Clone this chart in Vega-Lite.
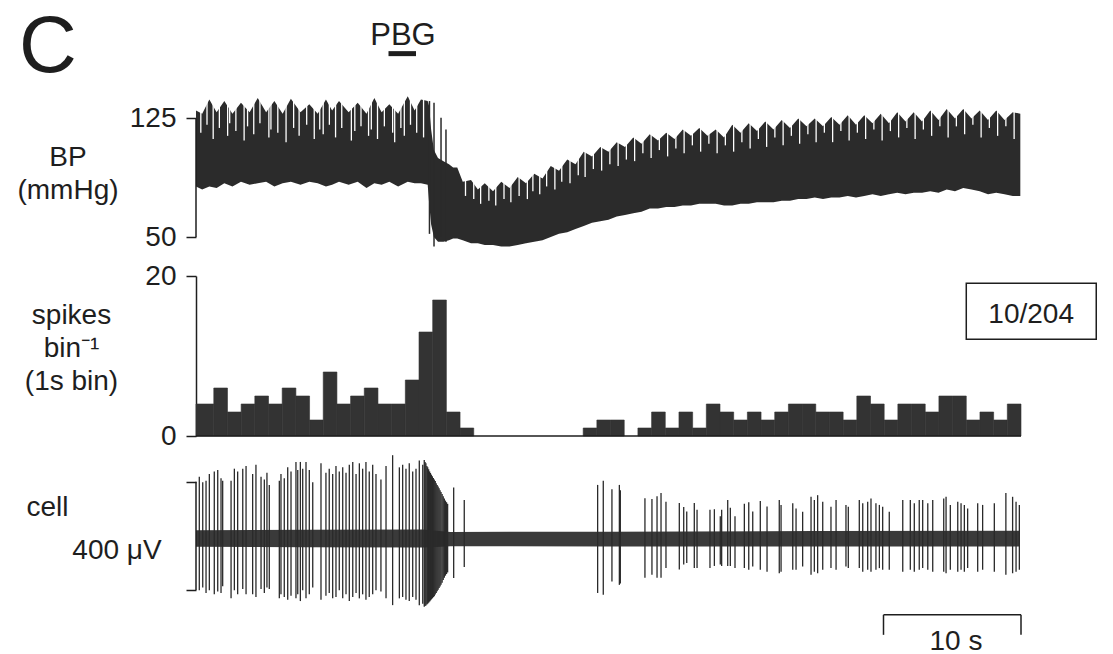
{
  "$schema": "https://vega.github.io/schema/vega-lite/v6.json",
  "padding": {"left": 16, "top": 7, "right": 0, "bottom": 0},
  "bounds": "flush",
  "spacing": 20,
  "config": {
    "view": {"stroke": null},
    "font": "Liberation Sans",
    "text": {"font": "Liberation Sans", "color": "#1e1e1e"},
    "axis": {
      "grid": false,
      "labelFont": "Liberation Sans",
      "titleFont": "Liberation Sans",
      "labelFontSize": 28,
      "titleFontSize": 28,
      "titleFontWeight": "normal",
      "labelColor": "#1e1e1e",
      "titleColor": "#1e1e1e",
      "tickColor": "#1e1e1e",
      "domainColor": "#1e1e1e",
      "tickWidth": 1.5,
      "domainWidth": 1.5,
      "titleAngle": 0,
      "titleAlign": "center",
      "titleBaseline": "alphabetic",
      "titleLineHeight": 33
    }
  },
  "datasets": {
    "bp": [
      {"t":0.0,"v":130,"v2":82},{"t":0.45,"v":128,"v2":80},{"t":0.97,"v":137,"v2":82},{"t":1.5,"v":129,"v2":81},
      {"t":2.06,"v":136,"v2":84},{"t":2.65,"v":128,"v2":82},{"t":3.27,"v":135,"v2":85},{"t":3.9,"v":129,"v2":83},
      {"t":4.49,"v":138,"v2":84},{"t":5.1,"v":129,"v2":85},{"t":5.7,"v":136,"v2":82},{"t":6.3,"v":128,"v2":84},
      {"t":6.9,"v":137.5,"v2":85},{"t":7.6,"v":129,"v2":83},{"t":8.24,"v":134,"v2":85},{"t":8.85,"v":128,"v2":84},
      {"t":9.45,"v":137,"v2":82},{"t":9.9,"v":130,"v2":83},{"t":10.4,"v":136,"v2":85},{"t":11.1,"v":129,"v2":83},
      {"t":11.76,"v":135,"v2":85},{"t":12.4,"v":128,"v2":81},{"t":12.97,"v":138,"v2":84},{"t":13.5,"v":129,"v2":83},
      {"t":14.06,"v":134,"v2":85},{"t":14.7,"v":128,"v2":82},{"t":15.4,"v":139,"v2":85},{"t":15.9,"v":130,"v2":84},
      {"t":16.36,"v":137,"v2":84},{"t":16.85,"v":136,"v2":83},{"t":16.95,"v":133,"v2":72},{"t":17.1,"v":118,"v2":58},
      {"t":17.3,"v":105,"v2":50},{"t":17.6,"v":100,"v2":47},{"t":18.0,"v":98,"v2":47},{"t":18.4,"v":96,"v2":48},
      {"t":18.7,"v":94,"v2":49},{"t":19.0,"v":94,"v2":49},{"t":19.4,"v":85,"v2":48},{"t":20.0,"v":86,"v2":46},
      {"t":20.5,"v":80,"v2":46},{"t":21.0,"v":84,"v2":45},{"t":21.6,"v":79,"v2":45},{"t":22.2,"v":85,"v2":44},
      {"t":22.8,"v":81,"v2":44},{"t":23.4,"v":88,"v2":45},{"t":24.0,"v":84,"v2":46},{"t":24.6,"v":90,"v2":47},
      {"t":25.2,"v":87,"v2":48},{"t":25.8,"v":95,"v2":50},{"t":26.4,"v":92,"v2":52},{"t":27.0,"v":99,"v2":53},
      {"t":27.6,"v":96,"v2":55},{"t":28.2,"v":104,"v2":57},{"t":28.8,"v":101,"v2":59},{"t":29.4,"v":107,"v2":60},
      {"t":30.0,"v":104,"v2":61},{"t":30.6,"v":110,"v2":63},{"t":31.2,"v":107,"v2":64},{"t":31.8,"v":113,"v2":65},
      {"t":32.4,"v":109,"v2":66},{"t":33.0,"v":115,"v2":68},{"t":33.6,"v":111,"v2":68},{"t":34.2,"v":116,"v2":69},
      {"t":34.8,"v":112,"v2":69},{"t":35.4,"v":118,"v2":70},{"t":36.0,"v":114,"v2":70},{"t":36.6,"v":119,"v2":71},
      {"t":37.2,"v":114,"v2":71},{"t":37.8,"v":118,"v2":71},{"t":38.4,"v":113,"v2":70},{"t":39.0,"v":121,"v2":70},
      {"t":39.6,"v":116,"v2":71},{"t":40.2,"v":122,"v2":71},{"t":40.8,"v":117,"v2":72},{"t":41.4,"v":123,"v2":72},
      {"t":42.0,"v":118,"v2":72},{"t":42.6,"v":124,"v2":73},{"t":43.2,"v":119,"v2":73},{"t":43.8,"v":125,"v2":74},
      {"t":44.4,"v":120,"v2":74},{"t":45.0,"v":125,"v2":75},{"t":45.6,"v":120,"v2":74},{"t":46.2,"v":126,"v2":75},
      {"t":46.8,"v":121,"v2":75},{"t":47.4,"v":127,"v2":76},{"t":48.0,"v":121,"v2":75},{"t":48.6,"v":127,"v2":76},
      {"t":49.2,"v":122,"v2":77},{"t":49.8,"v":128,"v2":76},{"t":50.4,"v":122,"v2":77},{"t":51.0,"v":129,"v2":78},
      {"t":51.6,"v":123,"v2":77},{"t":52.2,"v":129,"v2":78},{"t":52.8,"v":123,"v2":78},{"t":53.4,"v":130,"v2":79},
      {"t":54.0,"v":124,"v2":78},{"t":54.6,"v":131,"v2":80},{"t":55.2,"v":125,"v2":79},{"t":55.8,"v":131,"v2":81},
      {"t":56.4,"v":125,"v2":80},{"t":57.0,"v":130,"v2":79},{"t":57.6,"v":124,"v2":77},{"t":58.2,"v":130,"v2":78},
      {"t":58.8,"v":124,"v2":77},{"t":59.4,"v":129,"v2":76},{"t":59.95,"v":128,"v2":76}
    ],
    "bpGap": [
      {"t":0.35,"v":145,"v2":116},{"t":0.8,"v":145,"v2":121},{"t":1.25,"v":145,"v2":112},{"t":1.7,"v":145,"v2":119},
      {"t":2.3,"v":145,"v2":114},{"t":2.45,"v":145,"v2":122},{"t":2.9,"v":145,"v2":117},{"t":3.5,"v":145,"v2":111},
      {"t":3.75,"v":145,"v2":120},{"t":4.2,"v":145,"v2":115},{"t":4.65,"v":145,"v2":122},{"t":5.3,"v":145,"v2":113},
      {"t":5.45,"v":145,"v2":118},{"t":5.95,"v":145,"v2":116},{"t":6.55,"v":145,"v2":110},{"t":7.1,"v":145,"v2":119},
      {"t":7.5,"v":145,"v2":114},{"t":8.05,"v":145,"v2":121},{"t":8.6,"v":145,"v2":112},{"t":9.0,"v":145,"v2":118},
      {"t":9.25,"v":145,"v2":115},{"t":9.7,"v":145,"v2":121},{"t":10.15,"v":145,"v2":113},{"t":10.6,"v":145,"v2":119},
      {"t":11.3,"v":145,"v2":111},{"t":11.55,"v":145,"v2":117},{"t":12.0,"v":145,"v2":120},{"t":12.55,"v":145,"v2":114},
      {"t":12.75,"v":145,"v2":118},{"t":13.2,"v":145,"v2":112},{"t":13.7,"v":145,"v2":120},{"t":14.3,"v":145,"v2":116},
      {"t":14.45,"v":145,"v2":110},{"t":14.9,"v":145,"v2":119},{"t":15.15,"v":145,"v2":114},{"t":15.6,"v":145,"v2":121},
      {"t":16.05,"v":145,"v2":116},{"t":16.55,"v":145,"v2":113},
      {"t":19.6,"v":140,"v2":76},{"t":20.2,"v":140,"v2":74},{"t":20.7,"v":140,"v2":71},{"t":21.3,"v":140,"v2":73},
      {"t":21.8,"v":140,"v2":70},{"t":22.4,"v":140,"v2":74},{"t":22.9,"v":140,"v2":72},{"t":23.5,"v":140,"v2":76},
      {"t":24.1,"v":140,"v2":74},{"t":24.5,"v":140,"v2":79},{"t":25.0,"v":140,"v2":77},{"t":25.5,"v":140,"v2":82},
      {"t":26.1,"v":140,"v2":80},{"t":26.6,"v":140,"v2":85},{"t":27.2,"v":140,"v2":84},{"t":27.8,"v":140,"v2":89},
      {"t":28.3,"v":140,"v2":88},{"t":28.9,"v":140,"v2":93},{"t":29.5,"v":140,"v2":92},{"t":30.1,"v":140,"v2":96},
      {"t":30.7,"v":140,"v2":95},{"t":31.3,"v":140,"v2":99},{"t":31.9,"v":140,"v2":98},{"t":32.5,"v":140,"v2":103},
      {"t":33.1,"v":140,"v2":100},{"t":33.7,"v":140,"v2":105},{"t":34.3,"v":140,"v2":101},{"t":34.9,"v":140,"v2":106},
      {"t":35.5,"v":140,"v2":103},{"t":36.1,"v":140,"v2":108},{"t":36.7,"v":140,"v2":104},{"t":37.3,"v":140,"v2":109},
      {"t":37.9,"v":140,"v2":103},{"t":38.5,"v":140,"v2":108},{"t":39.1,"v":140,"v2":104},{"t":39.7,"v":140,"v2":110},
      {"t":40.3,"v":140,"v2":106},{"t":40.9,"v":140,"v2":112},{"t":41.5,"v":140,"v2":107},{"t":42.1,"v":140,"v2":113},
      {"t":42.7,"v":140,"v2":108},{"t":43.3,"v":140,"v2":114},{"t":43.9,"v":140,"v2":109},{"t":44.5,"v":140,"v2":115},
      {"t":45.1,"v":140,"v2":110},{"t":45.7,"v":140,"v2":116},{"t":46.3,"v":140,"v2":110},{"t":46.9,"v":140,"v2":117},
      {"t":47.5,"v":140,"v2":111},{"t":48.1,"v":140,"v2":116},{"t":48.7,"v":140,"v2":112},{"t":49.3,"v":140,"v2":118},
      {"t":49.9,"v":140,"v2":111},{"t":50.5,"v":140,"v2":117},{"t":51.1,"v":140,"v2":113},{"t":51.7,"v":140,"v2":119},
      {"t":52.3,"v":140,"v2":112},{"t":52.9,"v":140,"v2":118},{"t":53.5,"v":140,"v2":114},{"t":54.1,"v":140,"v2":120},
      {"t":54.7,"v":140,"v2":113},{"t":55.3,"v":140,"v2":120},{"t":55.9,"v":140,"v2":115},{"t":56.5,"v":140,"v2":121},
      {"t":57.1,"v":140,"v2":113},{"t":57.7,"v":140,"v2":119},{"t":58.3,"v":140,"v2":114},{"t":58.9,"v":140,"v2":120},
      {"t":59.5,"v":140,"v2":112}
    ],
    "bpStroke": [
      {"t":16.98,"v":136,"v2":52},{"t":17.31,"v":135,"v2":44},{"t":17.82,"v":125.5,"v2":50},{"t":18.18,"v":118,"v2":47}
    ],
    "bpAxis": [{"t":0,"v":125,"v2":50}],
    "pbgBar": [{"t":14.0,"t2":16.0,"v":166}],
    "pbgText": [{"t":15.05,"v":171.5,"label":"PBG"}],
    "hist": [
      {"t":-0.3,"t2":1,"v":4},{"t":1,"t2":2,"v":6},{"t":2,"t2":3,"v":3},{"t":3,"t2":4,"v":4},{"t":4,"t2":5,"v":5},
      {"t":5,"t2":6,"v":4},{"t":6,"t2":7,"v":6},{"t":7,"t2":8,"v":5},{"t":8,"t2":9,"v":2},{"t":9,"t2":10,"v":8},
      {"t":10,"t2":11,"v":4},{"t":11,"t2":12,"v":5},{"t":12,"t2":13,"v":6},{"t":13,"t2":14,"v":4},{"t":14,"t2":15,"v":4},
      {"t":15,"t2":16,"v":7},{"t":16,"t2":17,"v":13},{"t":17,"t2":18,"v":17},{"t":18,"t2":19,"v":3},{"t":19,"t2":20,"v":1},
      {"t":28,"t2":29,"v":1},{"t":29,"t2":30,"v":2},{"t":30,"t2":31,"v":2},{"t":32,"t2":33,"v":1},{"t":33,"t2":34,"v":3},
      {"t":34,"t2":35,"v":1},{"t":35,"t2":36,"v":3},{"t":36,"t2":37,"v":1},{"t":37,"t2":38,"v":4},{"t":38,"t2":39,"v":3},
      {"t":39,"t2":40,"v":2},{"t":40,"t2":41,"v":3},{"t":41,"t2":42,"v":2},{"t":42,"t2":43,"v":3},{"t":43,"t2":44,"v":4},
      {"t":44,"t2":45,"v":4},{"t":45,"t2":46,"v":3},{"t":46,"t2":47,"v":3},{"t":47,"t2":48,"v":2},{"t":48,"t2":49,"v":5},
      {"t":49,"t2":50,"v":4},{"t":50,"t2":51,"v":2},{"t":51,"t2":52,"v":4},{"t":52,"t2":53,"v":4},{"t":53,"t2":54,"v":3},
      {"t":54,"t2":55,"v":5},{"t":55,"t2":56,"v":5},{"t":56,"t2":57,"v":2},{"t":57,"t2":58,"v":3},{"t":58,"t2":59,"v":2},
      {"t":59,"t2":60,"v":4}
    ],
    "histBase": [{"t":-0.3,"t2":60,"v":0}],
    "boxRect": [{"t":56.0,"t2":65.5,"v":19.1,"v2":12.1}],
    "boxText": [{"t":60.74,"v":14.1,"label":"10/204"}],
    "band": [
      {"t":0,"v":32,"v2":-29},{"t":8,"v":34,"v2":-31},{"t":16.5,"v":35,"v2":-32},{"t":17.5,"v":30,"v2":-30},
      {"t":18.5,"v":26,"v2":-27},{"t":30,"v":27,"v2":-28},{"t":45,"v":29,"v2":-28},{"t":59.9,"v":30,"v2":-28}
    ],
    "spikes": [
      {"t":0.24,"v":230,"v2":-190},{"t":0.49,"v":210,"v2":-180},{"t":0.73,"v":215,"v2":-200},{"t":0.97,"v":240,"v2":-190},
      {"t":1.33,"v":250,"v2":-205},{"t":1.58,"v":255,"v2":-195},{"t":1.82,"v":225,"v2":-200},{"t":1.94,"v":215,"v2":-175},
      {"t":2.55,"v":215,"v2":-220},{"t":2.79,"v":260,"v2":-190},{"t":3.03,"v":250,"v2":-205},{"t":3.4,"v":260,"v2":-185},
      {"t":3.64,"v":270,"v2":-205},{"t":4.12,"v":240,"v2":-205},{"t":4.36,"v":275,"v2":-215},{"t":4.73,"v":230,"v2":-185},
      {"t":4.97,"v":220,"v2":-200},{"t":5.16,"v":245,"v2":-180},{"t":5.33,"v":200,"v2":-185},{"t":6.06,"v":215,"v2":-220},
      {"t":6.18,"v":240,"v2":-205},{"t":6.42,"v":225,"v2":-215},{"t":6.67,"v":265,"v2":-225},{"t":6.91,"v":250,"v2":-210},
      {"t":7.27,"v":285,"v2":-220},{"t":7.4,"v":255,"v2":-205},{"t":7.59,"v":285,"v2":-230},{"t":7.76,"v":260,"v2":-190},
      {"t":8.0,"v":285,"v2":-220},{"t":8.24,"v":255,"v2":-205},{"t":8.49,"v":210,"v2":-180},{"t":9.09,"v":280,"v2":-225},
      {"t":9.45,"v":245,"v2":-210},{"t":9.69,"v":260,"v2":-200},{"t":9.94,"v":240,"v2":-220},{"t":10.18,"v":270,"v2":-215},
      {"t":10.42,"v":250,"v2":-190},{"t":10.67,"v":265,"v2":-220},{"t":10.91,"v":245,"v2":-205},{"t":11.15,"v":275,"v2":-230},
      {"t":11.4,"v":285,"v2":-215},{"t":11.64,"v":240,"v2":-200},{"t":11.88,"v":280,"v2":-220},{"t":12.12,"v":260,"v2":-205},
      {"t":12.36,"v":285,"v2":-225},{"t":12.6,"v":250,"v2":-215},{"t":12.85,"v":275,"v2":-205},{"t":13.09,"v":240,"v2":-190},
      {"t":13.45,"v":220,"v2":-195},{"t":13.82,"v":270,"v2":-220},{"t":14.3,"v":310,"v2":-245},{"t":14.79,"v":265,"v2":-220},
      {"t":15.03,"v":275,"v2":-215},{"t":15.27,"v":260,"v2":-225},{"t":15.51,"v":280,"v2":-230},{"t":15.76,"v":250,"v2":-215},
      {"t":16.0,"v":260,"v2":-225},{"t":16.24,"v":290,"v2":-245},{"t":16.49,"v":275,"v2":-240},
      {"t":16.6,"v":292,"v2":-251},{"t":16.66,"v":285,"v2":-248},{"t":16.72,"v":280,"v2":-246},{"t":16.79,"v":270,"v2":-243},
      {"t":16.85,"v":265,"v2":-240},{"t":16.92,"v":258,"v2":-236},{"t":16.99,"v":250,"v2":-232},{"t":17.05,"v":244,"v2":-228},
      {"t":17.12,"v":238,"v2":-224},{"t":17.19,"v":232,"v2":-220},{"t":17.26,"v":226,"v2":-216},{"t":17.33,"v":220,"v2":-212},
      {"t":17.4,"v":214,"v2":-206},{"t":17.47,"v":206,"v2":-200},{"t":17.54,"v":200,"v2":-194},{"t":17.61,"v":194,"v2":-188},
      {"t":17.68,"v":188,"v2":-182},{"t":17.75,"v":180,"v2":-176},{"t":17.82,"v":174,"v2":-170},{"t":17.9,"v":166,"v2":-162},
      {"t":17.98,"v":158,"v2":-152},{"t":18.06,"v":150,"v2":-144},{"t":18.14,"v":142,"v2":-136},{"t":18.22,"v":136,"v2":-130},
      {"t":18.3,"v":130,"v2":-124},{"t":18.74,"v":190,"v2":-145},{"t":19.51,"v":144,"v2":-104},
      {"t":29.21,"v":200,"v2":-200},{"t":29.62,"v":215,"v2":-207},{"t":30.25,"v":184,"v2":-158},{"t":30.79,"v":200,"v2":-170},
      {"t":30.86,"v":180,"v2":-165},{"t":32.65,"v":151,"v2":-144},{"t":33.16,"v":148,"v2":-133},{"t":33.53,"v":158,"v2":-144},
      {"t":33.82,"v":170,"v2":-144},{"t":34.18,"v":138,"v2":-108},{"t":35.15,"v":133,"v2":-113},{"t":35.47,"v":118,"v2":-95},
      {"t":35.69,"v":102,"v2":-89},{"t":36.24,"v":133,"v2":-108},{"t":36.44,"v":108,"v2":-108},{"t":37.38,"v":108,"v2":-108},
      {"t":37.7,"v":110,"v2":-100},{"t":38.13,"v":84,"v2":-95},{"t":38.23,"v":108,"v2":-100},{"t":38.67,"v":144,"v2":-100},
      {"t":38.86,"v":115,"v2":-100},{"t":39.2,"v":84,"v2":-108},{"t":39.88,"v":130,"v2":-108},{"t":40.2,"v":136,"v2":-114},
      {"t":40.49,"v":102,"v2":-102},{"t":41.04,"v":140,"v2":-114},{"t":41.53,"v":120,"v2":-121},{"t":42.42,"v":144,"v2":-127},
      {"t":42.55,"v":126,"v2":-121},{"t":43.4,"v":132,"v2":-114},{"t":43.64,"v":113,"v2":-114},{"t":44.12,"v":101,"v2":-102},
      {"t":44.73,"v":156,"v2":-133},{"t":44.97,"v":144,"v2":-121},{"t":45.21,"v":162,"v2":-127},{"t":45.58,"v":138,"v2":-114},
      {"t":46.18,"v":119,"v2":-108},{"t":46.55,"v":144,"v2":-114},{"t":47.27,"v":126,"v2":-102},{"t":47.44,"v":119,"v2":-108},
      {"t":48.24,"v":144,"v2":-108},{"t":48.49,"v":132,"v2":-121},{"t":48.85,"v":138,"v2":-114},{"t":49.09,"v":150,"v2":-121},
      {"t":49.45,"v":132,"v2":-114},{"t":49.7,"v":126,"v2":-108},{"t":49.94,"v":119,"v2":-114},{"t":50.42,"v":101,"v2":-114},
      {"t":51.4,"v":144,"v2":-121},{"t":51.95,"v":144,"v2":-114},{"t":52.24,"v":132,"v2":-121},{"t":52.6,"v":144,"v2":-114},
      {"t":52.85,"v":144,"v2":-108},{"t":53.22,"v":132,"v2":-114},{"t":53.58,"v":144,"v2":-121},{"t":54.38,"v":150,"v2":-121},
      {"t":54.55,"v":156,"v2":-127},{"t":54.86,"v":126,"v2":-114},{"t":55.4,"v":138,"v2":-121},{"t":55.64,"v":132,"v2":-114},
      {"t":55.88,"v":126,"v2":-121},{"t":56.12,"v":113,"v2":-108},{"t":56.85,"v":132,"v2":-121},{"t":57.21,"v":126,"v2":-114},
      {"t":58.06,"v":132,"v2":-121},{"t":58.9,"v":170,"v2":-133},{"t":59.39,"v":156,"v2":-127},{"t":59.64,"v":138,"v2":-121},
      {"t":59.88,"v":126,"v2":-114}
    ],
    "bracket": [{"t":0,"v":212,"v2":-189}],
    "sbH": [{"t":50,"t2":60,"v":-281}],
    "sbV": [{"t":50,"v":-281,"v2":-355},{"t":60,"v":-281,"v2":-355}],
    "sbText": [{"t":55.27,"v":-411,"label":"10 s"}]
  },
  "vconcat": [
    {
      "width": 825,
      "height": 166,
      "encoding": {
        "x": {"field": "t", "type": "quantitative", "scale": {"domain": [0, 60], "nice": false, "zero": false},
              "axis": {"orient": "top", "domain": false, "ticks": false, "labels": false, "title": "C", "titleFontSize": 80, "titleX": -148.5, "titleY": -19}},
        "y": {"field": "v", "type": "quantitative", "scale": {"domain": [38, 143], "nice": false, "zero": false},
              "axis": {"values": [50, 125], "domain": false, "tickSize": 10, "labelPadding": 10, "title": ["BP", "(mmHg)"], "titleX": -128.5, "titleY": 75}}
      },
      "layer": [
        {"data": {"name": "bp"}, "mark": {"type": "area", "color": "#2b2b2b"}, "encoding": {"y2": {"field": "v2"}}},
        {"data": {"name": "bpGap"}, "mark": {"type": "rule", "color": "#ffffff", "strokeWidth": 1.3}, "encoding": {"y2": {"field": "v2"}}},
        {"data": {"name": "bpStroke"}, "mark": {"type": "rule", "color": "#2b2b2b", "strokeWidth": 1.5}, "encoding": {"y2": {"field": "v2"}}},
        {"data": {"name": "bpAxis"}, "mark": {"type": "rule", "color": "#1e1e1e", "strokeWidth": 1.5}, "encoding": {"y2": {"field": "v2"}}},
        {"data": {"name": "pbgBar"}, "mark": {"type": "rule", "color": "#1e1e1e", "strokeWidth": 5}, "encoding": {"x2": {"field": "t2"}}},
        {"data": {"name": "pbgText"}, "mark": {"type": "text", "fontSize": 31, "align": "center", "baseline": "alphabetic"}, "encoding": {"text": {"field": "label"}}}
      ]
    },
    {
      "width": 825,
      "height": 160,
      "encoding": {
        "x": {"field": "t", "type": "quantitative", "scale": {"domain": [-0.3, 60], "nice": false, "zero": false}, "axis": null},
        "y": {"field": "v", "type": "quantitative", "scale": {"domain": [0, 20], "nice": false},
              "axis": {"values": [0, 20], "domain": true, "tickSize": 10, "labelPadding": 10, "title": ["spikes", "bin⁻¹", "(1s bin)"], "titleX": -125, "titleY": 47}}
      },
      "layer": [
        {"data": {"name": "hist"}, "mark": {"type": "bar", "color": "#333333", "stroke": "#333333", "strokeWidth": 0.6}, "encoding": {"x2": {"field": "t2"}, "y2": {"datum": 0}}},
        {"data": {"name": "histBase"}, "mark": {"type": "rule", "color": "#1e1e1e", "strokeWidth": 1.5}, "encoding": {"x2": {"field": "t2"}}},
        {"data": {"name": "boxRect"}, "mark": {"type": "rect", "fillOpacity": 0, "stroke": "#1e1e1e", "strokeWidth": 1.5}, "encoding": {"x2": {"field": "t2"}, "y2": {"field": "v2"}}},
        {"data": {"name": "boxText"}, "mark": {"type": "text", "fontSize": 28, "align": "center", "baseline": "alphabetic"}, "encoding": {"text": {"field": "label"}}}
      ]
    },
    {
      "width": 825,
      "height": 191,
      "encoding": {
        "x": {"field": "t", "type": "quantitative", "scale": {"domain": [0, 60], "nice": false, "zero": false},
              "axis": {"orient": "top", "domain": false, "ticks": false, "labels": false, "title": "cell", "titleX": -149, "titleY": 59}},
        "y": {"field": "v", "type": "quantitative", "scale": {"domain": [-400, 307], "nice": false, "zero": false},
              "axis": {"values": [-189, 212], "domain": false, "labels": false, "tickSize": 10, "title": "400 μV", "titleX": -79.5, "titleY": 102}}
      },
      "layer": [
        {"data": {"name": "band"}, "mark": {"type": "area", "color": "#3a3a3a"}, "encoding": {"y2": {"field": "v2"}}},
        {"data": {"name": "spikes"}, "mark": {"type": "rule", "color": "#2a2a2a", "strokeWidth": 1.3}, "encoding": {"y2": {"field": "v2"}}},
        {"data": {"name": "bracket"}, "mark": {"type": "rule", "color": "#1e1e1e", "strokeWidth": 1.5}, "encoding": {"y2": {"field": "v2"}}},
        {"data": {"name": "sbH"}, "mark": {"type": "rule", "color": "#1e1e1e", "strokeWidth": 1.5}, "encoding": {"x2": {"field": "t2"}}},
        {"data": {"name": "sbV"}, "mark": {"type": "rule", "color": "#1e1e1e", "strokeWidth": 1.5}, "encoding": {"y2": {"field": "v2"}}},
        {"data": {"name": "sbText"}, "mark": {"type": "text", "fontSize": 28, "align": "center", "baseline": "alphabetic"}, "encoding": {"text": {"field": "label"}}}
      ]
    }
  ]
}
